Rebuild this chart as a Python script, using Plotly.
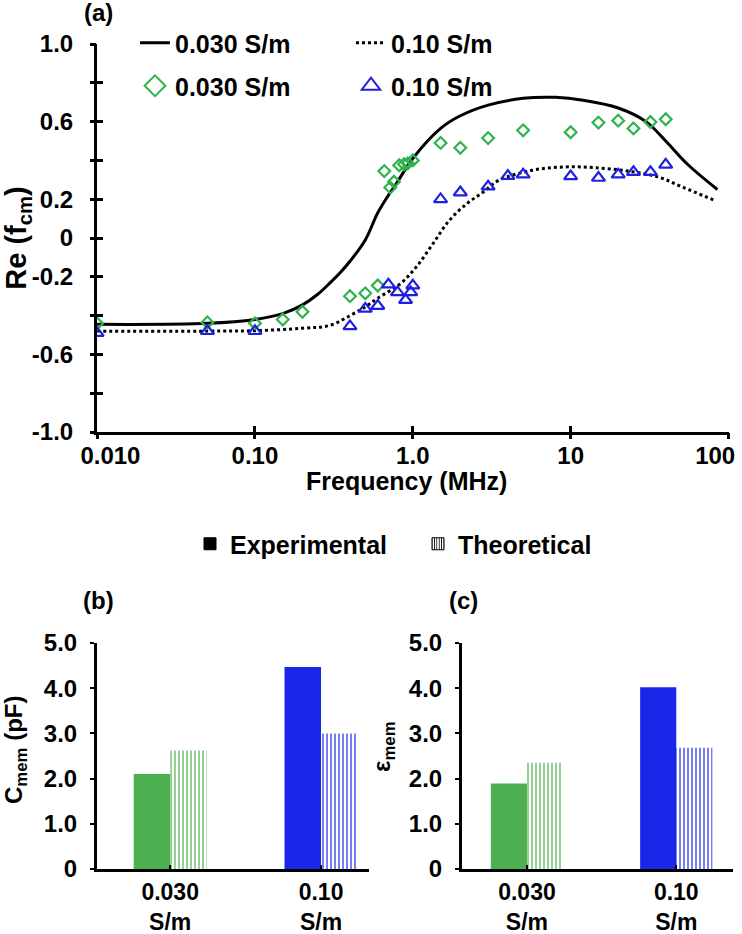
import plotly.graph_objects as go

# ---------------- (a) Re(f_cm) vs frequency ----------------
freq_exp_030 = [0.01, 0.05, 0.1, 0.15, 0.2, 0.4, 0.5, 0.6, 0.66, 0.72, 0.76, 0.82, 0.88, 0.93, 1.0,
                1.5, 2.0, 3.0, 5.0, 10, 15, 20, 25, 32, 40]
re_exp_030 = [-0.44, -0.435, -0.44, -0.42, -0.38, -0.30, -0.285, -0.245, 0.345, 0.26, 0.29, 0.375,
              0.38, 0.385, 0.40, 0.49, 0.465, 0.515, 0.555, 0.545, 0.595, 0.605, 0.565, 0.598, 0.612]

freq_exp_010 = [0.01, 0.05, 0.1, 0.4, 0.5, 0.6, 0.7, 0.8, 0.9, 0.97, 1.0, 1.5, 2.0, 3.0, 4.0, 5.0,
                10, 15, 20, 25, 32, 40]
re_exp_010 = [-0.49, -0.48, -0.48, -0.455, -0.365, -0.35, -0.24, -0.28, -0.32, -0.28, -0.245,
              0.20, 0.235, 0.265, 0.32, 0.327, 0.318, 0.31, 0.327, 0.34, 0.34, 0.378]

freq_theo_030 = [0.01, 0.05, 0.1, 0.15, 0.2, 0.25, 0.3, 0.35, 0.4, 0.5, 0.6, 0.7, 0.8, 1.0, 1.5,
                 2.0, 3.0, 5.0, 8.0, 12, 20, 30, 40, 55, 85]
re_theo_030 = [-0.445, -0.44, -0.42, -0.39, -0.345, -0.29, -0.23, -0.175, -0.12, -0.01, 0.13, 0.22,
               0.29, 0.41, 0.565, 0.63, 0.685, 0.72, 0.725, 0.71, 0.67, 0.6, 0.5, 0.38, 0.25]

freq_theo_010 = [0.01, 0.05, 0.1, 0.2, 0.3, 0.4, 0.5, 0.6, 0.83, 1.05, 1.34, 1.7, 2.2, 2.8, 3.5,
                 5.7, 9.0, 14, 23, 36, 51, 80]
re_theo_010 = [-0.48, -0.48, -0.478, -0.465, -0.45, -0.40, -0.355, -0.31, -0.237, -0.15, -0.03,
               0.09, 0.177, 0.237, 0.297, 0.349, 0.366, 0.363, 0.345, 0.314, 0.263, 0.197]

a_ytickvals = [-1.0, -0.6, -0.2, 0.0, 0.2, 0.6, 1.0]
a_yticktext = ["-1.0", "-0.6", "-0.2", "0", "0.2", "0.6", "1.0"]
a_yminorvals = [-0.8, -0.4, 0.4, 0.8]
a_yalltickvals = [-1.0, -0.8, -0.6, -0.4, -0.2, 0.0, 0.2, 0.4, 0.6, 0.8, 1.0]
a_xtickvals = [0.01, 0.1, 1, 10, 100]
NB = "\u00a0"
a_xticktext = [NB * 4 + "0.010", "0.10", "1.0", "10", "100" + NB * 4]

# ---------------- (b), (c) bar charts ----------------
bar_categories = ["0.030<br>S/m", "0.10<br>S/m"]
cmem_exp = [2.1, 4.47]
cmem_theo = [2.62, 3.0]
eps_exp = [1.89, 4.02]
eps_theo = [2.35, 2.68]
bar_ytickvals = [0, 1, 2, 3, 4, 5]
bar_yticktext = ["0", "1.0", "2.0", "3.0", "4.0", "5.0"]

GREEN = "#2fb34d"
BLUE = "#1f1fe0"
BAR_GREEN = "#4cb050"
BAR_BLUE = "#1a27e8"
bar_colors = [BAR_GREEN, BAR_BLUE]

fig = go.Figure()

# theory curves
fig.add_trace(go.Scatter(x=freq_theo_030, y=re_theo_030, mode="lines", line=dict(color="black", width=3, shape="spline"),
                         name="0.030 S/m", legend="legend", xaxis="x", yaxis="y"))
fig.add_trace(go.Scatter(x=freq_theo_010, y=re_theo_010, mode="lines", line=dict(color="black", width=3, dash="dot", shape="spline"),
                         name="0.10 S/m", legend="legend", xaxis="x", yaxis="y"))
# experimental points
fig.add_trace(go.Scatter(x=freq_exp_030, y=re_exp_030, mode="markers",
                         marker=dict(symbol="diamond-open", size=9, color=GREEN, line=dict(width=2.2, color=GREEN)),
                         showlegend=False, xaxis="x", yaxis="y"))
fig.add_trace(go.Scatter(x=freq_exp_010, y=re_exp_010, mode="markers",
                         marker=dict(symbol="triangle-up-open", size=11.5, color=BLUE, line=dict(width=2.2, color=BLUE)),
                         showlegend=False, xaxis="x", yaxis="y"))
# legend entries with large symbols
fig.add_trace(go.Scatter(x=[None], y=[None], mode="markers", name="0.030 S/m", legend="legend2",
                         marker=dict(symbol="diamond-open", size=16, color=GREEN, line=dict(width=2, color=GREEN)),
                         xaxis="x", yaxis="y"))
fig.add_trace(go.Scatter(x=[None], y=[None], mode="markers", name="0.10 S/m", legend="legend2",
                         marker=dict(symbol="triangle-up-open", size=16, color=BLUE, line=dict(width=2, color=BLUE)),
                         xaxis="x", yaxis="y"))
# empty helper traces so the tick-overlay axes get drawn
fig.add_trace(go.Scatter(x=[None], y=[None], mode="markers", showlegend=False, hoverinfo="skip",
                         xaxis="x4", yaxis="y"))
fig.add_trace(go.Scatter(x=[None], y=[None], mode="markers", showlegend=False, hoverinfo="skip",
                         xaxis="x", yaxis="y4"))

# bars (b)
pat = dict(shape="|", fillmode="replace", bgcolor="white", size=4, solidity=0.3)
fig.add_trace(go.Bar(x=bar_categories, y=cmem_exp, marker=dict(color=bar_colors, line=dict(width=0)),
                     offsetgroup="exp", showlegend=False, xaxis="x2", yaxis="y2"))
fig.add_trace(go.Bar(x=bar_categories, y=cmem_theo, marker=dict(color=bar_colors, line=dict(width=0), pattern=pat),
                     offsetgroup="theo", showlegend=False, xaxis="x2", yaxis="y2"))
# bars (c)
fig.add_trace(go.Bar(x=bar_categories, y=eps_exp, marker=dict(color=bar_colors, line=dict(width=0)),
                     offsetgroup="exp", showlegend=False, xaxis="x3", yaxis="y3"))
fig.add_trace(go.Bar(x=bar_categories, y=eps_theo, marker=dict(color=bar_colors, line=dict(width=0), pattern=pat),
                     offsetgroup="theo", showlegend=False, xaxis="x3", yaxis="y3"))
# bar legend entries
fig.add_trace(go.Bar(x=[None], y=[None], name="Experimental", legend="legend3", offsetgroup="exp",
                     marker=dict(color="black", line=dict(width=1, color="black")), xaxis="x2", yaxis="y2"))
fig.add_trace(go.Bar(x=[None], y=[None], name="Theoretical", legend="legend3", offsetgroup="theo",
                     marker=dict(color="black", line=dict(width=1, color="black"),
                                 pattern=dict(shape="|", fillmode="replace", bgcolor="white", size=3, solidity=0.35)),
                     xaxis="x2", yaxis="y2"))

W, H = 742, 934
def px_x(v):
    return v / W
def px_y(v):
    return 1 - v / H

axis_common = dict(showline=True, linecolor="black", linewidth=3, showgrid=False, zeroline=False,
                   tickcolor="black", mirror=False, automargin=False)
overlay_common = dict(showticklabels=False, showline=False, showgrid=False, zeroline=False,
                      tickcolor="black", automargin=False, ticks="outside", ticklen=6, tickwidth=2.5)

a_dom_x = [px_x(97), px_x(729)]
a_dom_y = [px_y(432), px_y(44)]
b_dom_x = [px_x(97), px_x(369)]
c_dom_x = [px_x(462), px_x(733)]
bc_dom_y = [px_y(869), px_y(643)]

def label(text, x, y, size=24, angle=0):
    return dict(text=text, x=px_x(x), y=px_y(y), xref="paper", yref="paper", showarrow=False,
                xanchor="center", yanchor="middle", textangle=angle, font=dict(size=size))

fig.update_layout(
    width=W, height=H, margin=dict(l=0, r=0, t=0, b=0, autoexpand=False),
    paper_bgcolor="white", plot_bgcolor="white",
    font=dict(family="Liberation Sans, Arial, sans-serif", size=24, color="black", weight="bold"),
    barmode="group", bargap=0.516, bargroupgap=0,
    xaxis=dict(axis_common, type="log", domain=a_dom_x, range=[-2.0005, 2.003], anchor="y",
               tickmode="array", tickvals=a_xtickvals, ticktext=a_xticktext, ticklabeloverflow="allow",
               ticks="inside", ticklen=6, tickwidth=2.5, ticklabelstandoff=0),
    yaxis=dict(axis_common, domain=a_dom_y, range=[-1, 1], anchor="x",
               tickmode="array", tickvals=a_ytickvals, ticktext=a_yticktext,
               ticks="inside", ticklen=6, tickwidth=2.5, ticklabelstandoff=16,
               minor=dict(tickmode="array", tickvals=a_yminorvals, ticks="inside", ticklen=6, tickwidth=2.5,
                          tickcolor="black", showgrid=False),
               title=dict(text="Re (f<sub>cm</sub>)", standoff=0)),
    xaxis4=dict(overlay_common, type="log", domain=a_dom_x, range=[-2.0005, 2.003], anchor="y", overlaying="x",
                tickmode="array", tickvals=a_xtickvals),
    yaxis4=dict(overlay_common, domain=a_dom_y, range=[-1, 1], anchor="x", overlaying="y",
                tickmode="array", tickvals=a_yalltickvals),
    xaxis2=dict(axis_common, domain=b_dom_x, anchor="y2", range=[-0.485, 1.318], ticks="inside",
                ticklen=4, tickwidth=2, type="category", tickfont=dict(size=23)),
    yaxis2=dict(axis_common, domain=bc_dom_y, anchor="x2", range=[0, 5], tickmode="array",
                tickvals=bar_ytickvals, ticktext=bar_yticktext, ticks="outside", ticklen=4, tickwidth=2,
                ticklabelstandoff=8),
    xaxis3=dict(axis_common, domain=c_dom_x, anchor="y3", range=[-0.435, 1.38], ticks="inside",
                ticklen=4, tickwidth=2, type="category", tickfont=dict(size=23)),
    yaxis3=dict(axis_common, domain=bc_dom_y, anchor="x3", range=[0, 5], tickmode="array",
                tickvals=bar_ytickvals, ticktext=bar_yticktext, ticks="outside", ticklen=4, tickwidth=2,
                ticklabelstandoff=8),
    legend=dict(orientation="h", x=px_x(135), y=px_y(43), xanchor="left", yanchor="middle",
                entrywidth=171, entrywidthmode="pixels", bgcolor="rgba(0,0,0,0)",
                font=dict(size=25), itemwidth=30, tracegroupgap=0),
    legend2=dict(orientation="h", x=px_x(135), y=px_y(86), xanchor="left", yanchor="middle",
                 entrywidth=171, entrywidthmode="pixels", bgcolor="rgba(0,0,0,0)",
                 font=dict(size=25), itemwidth=30, tracegroupgap=0),
    legend3=dict(orientation="h", x=px_x(190), y=px_y(544), xanchor="left", yanchor="middle",
                 entrywidth=183, entrywidthmode="pixels", bgcolor="rgba(0,0,0,0)",
                 font=dict(size=25), itemwidth=30, tracegroupgap=0),
    annotations=[
        label("(a)", 98, 13),
        label("(b)", 98, 600),
        label("(c)", 463, 600),
        label("Frequency (MHz)", 406, 481, size=25),
        label("C<sub>mem</sub> (pF)", 15, 750, angle=-90),
        label("ε<sub>mem</sub>", 383, 746, angle=-90),
    ],
)

fig.write_html("out.html", config={"displayModeBar": False},
               post_script="document.body.style.margin='0px';document.body.style.padding='0px';")
